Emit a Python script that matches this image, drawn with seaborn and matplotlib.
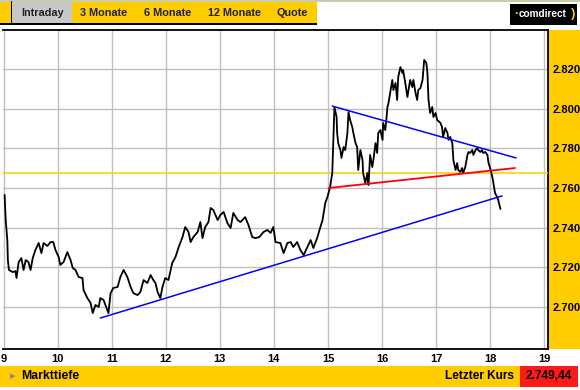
import numpy as np
import pandas as pd
import seaborn as sns
import matplotlib.pyplot as plt
from matplotlib.patches import Rectangle

# Intraday quotes (hour of day, price)
hours = [9.02, 9.04, 9.07, 9.08, 9.10, 9.17, 9.22, 9.24, 9.28, 9.33, 9.37, 9.41, 9.46, 9.50, 9.54,
         9.59, 9.65, 9.70, 9.74, 9.81, 9.87, 9.92, 9.96, 10.02, 10.05, 10.11, 10.18, 10.24, 10.28,
         10.33, 10.39, 10.46, 10.48, 10.55, 10.61, 10.65, 10.70, 10.76, 10.79, 10.85, 10.92, 10.94,
         10.98, 11.03, 11.11, 11.16, 11.22, 11.29, 11.35, 11.40, 11.48, 11.53, 11.59, 11.66, 11.72,
         11.77, 11.81, 11.85, 11.90, 11.94, 11.99, 12.05, 12.12, 12.18, 12.24, 12.31, 12.36, 12.42,
         12.46, 12.51, 12.59, 12.64, 12.68, 12.73, 12.79, 12.83, 12.88, 12.96, 13.01, 13.07, 13.14,
         13.20, 13.25, 13.33, 13.38, 13.47, 13.53, 13.60, 13.66, 13.73, 13.81, 13.88, 13.94, 13.99,
         14.03, 14.12, 14.18, 14.25, 14.31, 14.36, 14.43, 14.49, 14.55, 14.62, 14.68, 14.73, 14.80,
         14.86, 14.90, 14.95, 14.99, 15.04, 15.08, 15.10, 15.12, 15.16, 15.17, 15.19, 15.23, 15.25,
         15.29, 15.32, 15.36, 15.38, 15.41, 15.45, 15.47, 15.51, 15.54, 15.56, 15.60, 15.64, 15.65,
         15.69, 15.73, 15.75, 15.78, 15.82, 15.84, 15.88, 15.91, 15.93, 15.97, 16.01, 16.02, 16.06,
         16.08, 16.10, 16.12, 16.15, 16.19, 16.21, 16.25, 16.28, 16.30, 16.34, 16.38, 16.39, 16.43,
         16.47, 16.49, 16.52, 16.56, 16.58, 16.62, 16.65, 16.67, 16.71, 16.75, 16.78, 16.82, 16.84,
         16.86, 16.89, 16.93, 16.95, 16.99, 17.02, 17.08, 17.11, 17.13, 17.17, 17.21, 17.23, 17.26,
         17.30, 17.32, 17.36, 17.39, 17.41, 17.45, 17.48, 17.50, 17.54, 17.58, 17.60, 17.63, 17.67,
         17.69, 17.73, 17.76, 17.78, 17.82, 17.85, 17.87, 17.91, 17.95, 17.97, 18.00, 18.04, 18.06,
         18.09, 18.13, 18.15, 18.19]
prices = [2.7565, 2.7438, 2.7337, 2.7236, 2.7186, 2.7175, 2.7180, 2.7145, 2.7226, 2.7246, 2.7186,
          2.7236, 2.7226, 2.7186, 2.7246, 2.7287, 2.7322, 2.7271, 2.7322, 2.7307, 2.7327, 2.7327,
          2.7287, 2.7251, 2.7211, 2.7226, 2.7276, 2.7236, 2.7196, 2.7186, 2.7150, 2.7145, 2.7084,
          2.7044, 2.7019, 2.6968, 2.7009, 2.6999, 2.7044, 2.7034, 2.6983, 2.6968, 2.7069, 2.7095,
          2.7100, 2.7150, 2.7186, 2.7150, 2.7100, 2.7069, 2.7059, 2.7074, 2.7135, 2.7120, 2.7160,
          2.7135, 2.7120, 2.7074, 2.7044, 2.7100, 2.7145, 2.7135, 2.7221, 2.7251, 2.7302, 2.7352,
          2.7403, 2.7378, 2.7327, 2.7352, 2.7378, 2.7428, 2.7347, 2.7403, 2.7428, 2.7499, 2.7489,
          2.7438, 2.7464, 2.7479, 2.7423, 2.7398, 2.7474, 2.7438, 2.7428, 2.7453, 2.7413, 2.7352,
          2.7347, 2.7352, 2.7378, 2.7388, 2.7373, 2.7403, 2.7327, 2.7322, 2.7271, 2.7322, 2.7327,
          2.7302, 2.7327, 2.7287, 2.7261, 2.7302, 2.7337, 2.7297, 2.7347, 2.7403, 2.7438, 2.7524,
          2.7554, 2.7605, 2.7676, 2.7843, 2.8009, 2.7959, 2.7878, 2.7827, 2.7792, 2.7752, 2.7807,
          2.7792, 2.7878, 2.7984, 2.7944, 2.7908, 2.7878, 2.7827, 2.7807, 2.7691, 2.7792, 2.7741,
          2.7676, 2.7625, 2.7676, 2.7615, 2.7767, 2.7706, 2.7741, 2.7827, 2.7777, 2.7878, 2.7893,
          2.7843, 2.7929, 2.7893, 2.7944, 2.8009, 2.8030, 2.8080, 2.8146, 2.8095, 2.8131, 2.8045,
          2.8161, 2.8211, 2.8181, 2.8196, 2.8131, 2.8060, 2.8095, 2.8146, 2.8110, 2.8146, 2.8080,
          2.8045, 2.8095, 2.8105, 2.8146, 2.8247, 2.8232, 2.8181, 2.8045, 2.7979, 2.8009, 2.7959,
          2.7979, 2.7944, 2.7929, 2.7908, 2.7858, 2.7903, 2.7878, 2.7843, 2.7858, 2.7827, 2.7741,
          2.7691, 2.7726, 2.7691, 2.7681, 2.7701, 2.7676, 2.7706, 2.7767, 2.7782, 2.7777, 2.7792,
          2.7767, 2.7792, 2.7802, 2.7792, 2.7782, 2.7792, 2.7777, 2.7782, 2.7767, 2.7726, 2.7701,
          2.7656, 2.7625, 2.7575, 2.7554, 2.7539, 2.7494]

# trend lines drawn on the chart
support_t, support_p = [10.79, 18.22], [2.6943, 2.7560]
resist_t, resist_p = [15.08, 18.48], [2.8014, 2.7752]
mid_t, mid_p = [15.01, 18.46], [2.7600, 2.7701]
prev_close = 2.7674

hour_ticks = list(range(9, 20))
price_ticks = [2.700, 2.720, 2.740, 2.760, 2.780, 2.800, 2.820]
price_labels = ["2.700", "2.720", "2.740", "2.760", "2.780", "2.800", "2.820"]
tabs = ["Intraday", "3 Monate", "6 Monate", "12 Monate", "Quote"]
tab_x = [42, 104, 168, 235, 292]
last_price = "2.749,44"

YEL = "#FFCC00"
W, H = 580, 390


def box(x0, y0, w, h):
    # pixel box (top-left origin) -> figure fraction [left, bottom, width, height]
    return [x0 / W, 1 - (y0 + h) / H, w / W, h / H]


def rect(x0, y0, w, h, color):
    l, b, ww, hh = box(x0, y0, w, h)
    fig.add_artist(Rectangle((l, b), ww, hh, transform=fig.transFigure, color=color, lw=0,
                             zorder=-1))


sns.set_style("white")
plt.rcParams['font.family'] = ['Liberation Sans', 'DejaVu Sans']

fig = plt.figure(figsize=(5.8, 3.9), dpi=100)
fig.patch.set_facecolor("white")

# header tab bar
rect(0, 0, 317, 24, YEL)
rect(0, 0, 580, 1.5, "#C8CFA8")
rect(12, 1, 60, 23, "#C8C8C8")
rect(11, 1, 1.2, 23, "black")
rect(0, 23.5, 317, 1.2, "black")
for t, x in zip(tabs, tab_x):
    fig.text(x / W, 1 - 13 / H, t, ha="center", va="center", fontsize=7.8,
             fontweight="bold", color="#222222")

# logo
rect(510, 4, 67, 21, "black")
fig.text(514 / W, 1 - 14 / H, "·", ha="left", va="center", fontsize=9, fontweight="bold", color=YEL)
fig.text(518.5 / W, 1 - 14 / H, "comdirect", ha="left", va="center", fontsize=7.2,
         fontweight="bold", color="white")
fig.text(571 / W, 1 - 13.5 / H, ")", ha="left", va="center", fontsize=9.5, fontweight="bold", color=YEL)

# right price panel
rect(548, 30, 32, 319, YEL)

# footer bar
rect(0, 365.5, 578, 21.5, YEL)
rect(520, 365.5, 58, 21.5, "#FF1A1A")
fig.text(10 / W, 1 - 376 / H, "▸", ha="left", va="center", fontsize=8, color="#888888",
         family=["DejaVu Sans"])
fig.text(21 / W, 1 - 376 / H, "Markttiefe", ha="left", va="center", fontsize=8.8,
         fontweight="bold", color="black")
fig.text(514 / W, 1 - 376 / H, "Letzter Kurs", ha="right", va="center", fontsize=8.6,
         fontweight="bold", color="black")
fig.text(549 / W, 1 - 376 / H, last_price, ha="center", va="center", fontsize=8.6,
         fontweight="bold", color="black")

# chart
ax = fig.add_axes(box(3, 30.3, 545, 318.4))
df = pd.DataFrame({"hour": hours, "price": prices})
sns.lineplot(data=df, x="hour", y="price", ax=ax, color="black", lw=1.3, zorder=5)
ax.axhline(prev_close, color=YEL, lw=1.1, zorder=3)
ax.plot(support_t, support_p, color="#0000FF", lw=1.1, zorder=6)
ax.plot(resist_t, resist_p, color="#0000FF", lw=1.1, zorder=6)
ax.plot(mid_t, mid_p, color="#FF0000", lw=1.3, zorder=6)

ax.set_xlim(8.99, 19.07)
ax.set_ylim(2.6788, 2.8397)
ax.set_xticks(hour_ticks)
ax.set_xticklabels([str(h) for h in hour_ticks], fontsize=8, fontweight="bold")
ax.set_yticks(price_ticks)
ax.set_yticklabels(price_labels, fontsize=8, fontweight="bold")
ax.yaxis.tick_right()
ax.tick_params(axis="both", length=0, colors="black")
ax.tick_params(axis="y", pad=3)
ax.tick_params(axis="x", pad=4)
ax.grid(True, color="#C0C0C0", lw=1)
ax.set_xlabel("")
ax.set_ylabel("")
for s in ["top", "bottom", "right"]:
    ax.spines[s].set_color("black")
    ax.spines[s].set_linewidth(1.3)
ax.spines["left"].set_visible(False)

fig.savefig("out.png", dpi=100)
